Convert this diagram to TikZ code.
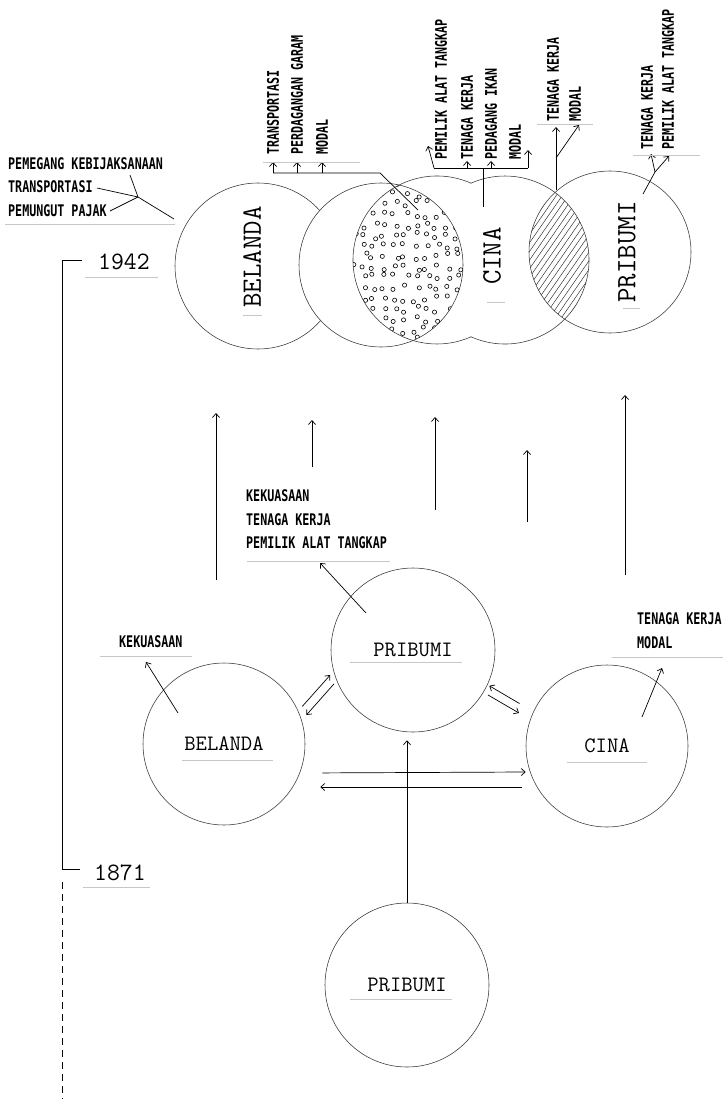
\documentclass[tikz,border=0pt]{standalone}
\usepackage{fontspec}
\newfontfamily\lblfont{DejaVu Sans Mono}[FakeStretch=0.73]
\usetikzlibrary{arrows.meta}
\tikzset{
    x=1pt, y=-1pt, % one unit = one pixel of the scan, y runs down
    party/.style={ % the big circles of the groups
        circle, draw=black!80, line width=0.55pt,
        minimum size=#1, inner sep=0pt,
        font=\ttfamily\fontsize{22}{22}\selectfont
    },
    ring/.style={draw=black!80, line width=0.55pt},
    tallname/.style={ % names standing in the 1942 circles
        rotate=90, inner sep=0pt,
        font=\ttfamily\fontsize{28}{28}\selectfont
    },
    year/.style={inner sep=0pt, anchor=west, font=\ttfamily\fontsize{25}{25}\selectfont},
    lbl/.style={ % typed role slips
        inner sep=0pt, anchor=west, align=left,
        font=\lblfont\bfseries\fontsize{16}{23.5}\selectfont
    },
    vlbl/.style={lbl, rotate=90}, % slips standing on end
    link/.style={draw, line width=0.7pt},
    tip/.style={link, -{Straight Barb[length=4pt,width=7pt]}},
    paste/.style={draw=black!22, line width=0.7pt}, % edges of the pasted slips
    dotring/.style={draw, line width=0.6pt},
    hatchline/.style={draw=black!85, line width=0.45pt},
    axisdash/.style={link, dash pattern=on 7pt off 5pt}
}
\begin{document}
\begin{tikzpicture}
    \useasboundingbox (0,0) rectangle (723,1099);

    % ---------- 1942 ----------
    \node[party=166pt, fill=white] (bel42) at (258,266) {};
    \node[party=164pt, fill=white] (mix42) at (381,265) {};
    \coordinate (cinaL) at (437,260);
    \coordinate (cinaR) at (505,260);
    \node[party=162pt] (pri42) at (610,252) {};

    % dotted overlap
    \begin{scope}
        \clip (mix42.center) circle (82pt);
        \clip (cinaL) circle (84pt);
        \pgfmathsetseed{1942}
        \foreach \i in {0,...,11}
            \foreach \j in {0,...,15}
                \draw[dotring] ({353+10.5*\i+3.5*rand},{183+10.5*\j+3.5*rand}) circle (2.1pt);
    \end{scope}

    % the two Cina circles, one outline
    \draw[ring] ([shift={(66:84pt)}]cinaL) arc[start angle=66, end angle=294, radius=84pt];
    \draw[ring] ([shift={(-114:84pt)}]cinaR) arc[start angle=-114, end angle=114, radius=84pt];

    % hatched overlap
    \begin{scope}
        \clip (cinaR) circle (84pt);
        \clip (pri42.center) circle (81pt);
        \foreach \k in {0,...,28}
            \draw[hatchline] ({420+6*\k},340) -- ++(125,-180);
    \end{scope}

    \node[tallname] (belName) at (252,257) {BELANDA};
    \node[tallname] (cinName) at (492,256) {CINA};
    \node[tallname] (priName) at (627,252) {PRIBUMI};

    % Belanda roles
    \node[lbl] (dutchRoles) at (8,187) {PEMEGANG KEBIJAKSANAAN\\TRANSPORTASI\\PEMUNGUT PAJAK};
    \coordinate (kebEnd) at (130,175);
    \coordinate (trEnd) at (97,188);
    \coordinate (pjEnd) at (110,211);
    \coordinate (jDutch) at (138,197);
    \coordinate (toBel) at (174,219);
    \draw[link] (kebEnd) -- (jDutch) (trEnd) -- (jDutch) (pjEnd) -- (jDutch) -- (toBel);

    % standing slips
    \node[vlbl] (tA1) at (273,155) {TRANSPORTASI};
    \node[vlbl] (tA2) at (297,155) {PERDAGANGAN GARAM};
    \node[vlbl] (tA3) at (322,155) {MODAL};
    \node[vlbl] (tB1) at (441,160) {PEMILIK ALAT TANGKAP};
    \node[vlbl] (tB2) at (467,160) {TENAGA KERJA};
    \node[vlbl] (tB3) at (491,160) {PEDAGANG IKAN};
    \node[vlbl] (tB4) at (515,160) {MODAL};
    \node[vlbl] (tC1) at (553,122) {TENAGA KERJA};
    \node[vlbl] (tC2) at (575,122) {MODAL};
    \node[vlbl] (tD1) at (647,150) {TENAGA KERJA};
    \node[vlbl] (tD2) at (668,150) {PEMILIK ALAT TANGKAP};

    % dotted part -> slips A
    \coordinate (dotsA) at (418,210);
    \coordinate (barA) at (380,173);
    \draw[link] (dotsA) -- (barA) -- (tA1.west |- barA);
    \foreach \t in {tA1,tA2,tA3}
        \draw[tip, shorten >=7pt] (\t.west |- barA) -- (\t.west);

    % Cina -> slips B
    \coordinate (cinaB) at (483,207);
    \coordinate (barB) at (483,168);
    \coordinate (barBL) at (434,168);
    \coordinate (barBR) at (528,168);
    \coordinate (tipB1) at (428,146);
    \coordinate (tipB4) at (528,150);
    \draw[link] (cinaB) -- (barB) (barBL) -- (barBR);
    \draw[tip] (barBL) -- (tipB1);
    \draw[tip] (barBR) -- (tipB4);
    \foreach \t in {tB2,tB3}
        \draw[tip, shorten >=1pt] (\t.west |- barB) -- (\t.west);

    % hatched part -> slips C
    \coordinate (hatchC) at (556,190);
    \coordinate (forkC) at (556,158);
    \coordinate (tipC1) at (556,127);
    \coordinate (tipC2) at (579,125);
    \draw[tip] (hatchC) -- (tipC1);
    \draw[tip] (forkC) -- (tipC2);

    % Pribumi -> slips D
    \coordinate (priD) at (643,194);
    \coordinate (forkD) at (655,172);
    \coordinate (tipD1) at (651,154);
    \coordinate (tipD2) at (669,156);
    \draw[link] (priD) -- (forkD);
    \draw[tip] (forkD) -- (tipD1);
    \draw[tip] (forkD) -- (tipD2);

    % time axis
    \node[year] (y42) at (98,262) {1942};
    \node[year] (y71) at (94,873) {1871};
    \coordinate (tick42) at (82,260);
    \coordinate (axTop) at (62,260);
    \coordinate (axMid) at (62,869);
    \coordinate (tick71) at (80,869);
    \coordinate (dashTop) at (62,882);
    \coordinate (axEnd) at (62,1099);
    \draw[link] (tick42) -- (axTop) -- (axMid) -- (tick71);
    \draw[axisdash] (dashTop) -- (axEnd);

    % from 1871 up to 1942
    \foreach \x/\ya/\yb [count=\n] in {216/580/413, 312/467/420, 435/510/417, 527/522/450, 625/575/395} {
        \coordinate (upS\n) at (\x,\ya);
        \coordinate (upE\n) at (\x,\yb);
        \draw[tip] (upS\n) -- (upE\n);
    }

    % ---------- 1871 ----------
    \node[party=164pt] (pri71) at (413,650) {PRIBUMI};
    \node[party=162pt] (bel71) at (224,744) {BELANDA};
    \node[party=162pt] (cin71) at (607,746) {CINA};
    \node[party=164pt] (priOld) at (407,985) {PRIBUMI};

    \node[lbl] (kuasaBel) at (119,642) {KEKUASAAN};
    \node[lbl] (rolesPri) at (246,519.5) {KEKUASAAN\\TENAGA KERJA\\PEMILIK ALAT TANGKAP};
    \node[lbl] (rolesCin) at (637,630.5) {TENAGA KERJA\\MODAL};

    \coordinate (belK) at (178,713);
    \coordinate (belKtip) at (146,662);
    \coordinate (priK) at (366,613);
    \coordinate (priKtip) at (320,563);
    \coordinate (cinK) at (642,717);
    \coordinate (cinKtip) at (662,668);
    \draw[tip] (belK) -- (belKtip);
    \draw[tip] (priK) -- (priKtip);
    \draw[tip] (cinK) -- (cinKtip);

    % exchanges between the groups
    \draw[tip, shorten <=6pt, shorten >=5pt] (bel71.24) -- (pri71.195);
    \draw[tip, shorten <=4pt, shorten >=7pt] (pri71.202) -- (bel71.17);
    \draw[tip, shorten <=5pt, shorten >=13pt] (pri71.-31) -- (cin71.161);
    \draw[tip, shorten <=16pt, shorten >=2pt] (cin71.155) -- (pri71.-25);
    \draw[tip, shorten <=17pt] ([yshift=-29pt]bel71.east) -- ([yshift=-26pt]cin71.west);
    \draw[tip, shorten <=4pt, shorten >=15pt] ([yshift=-41pt]cin71.west) -- ([yshift=-43pt]bel71.east);
    \draw[tip, shorten >=8pt] (priOld.north) -- (priOld.north |- pri71.south);

    % edges of the pasted slips
    \foreach \xa/\xb/\y in {5/175/224, 85/158/277, 263/360/162, 537/593/124, 633/700/155,
                            243/262/315, 487/505/302, 623/640/308,
                            247/390/561, 350/462/662, 100/192/656, 182/273/760,
                            612/723/657, 567/647/762, 83/150/887, 350/452/999}
        \draw[paste] (\xa,\y) -- (\xb,\y);
\end{tikzpicture}
\end{document}
